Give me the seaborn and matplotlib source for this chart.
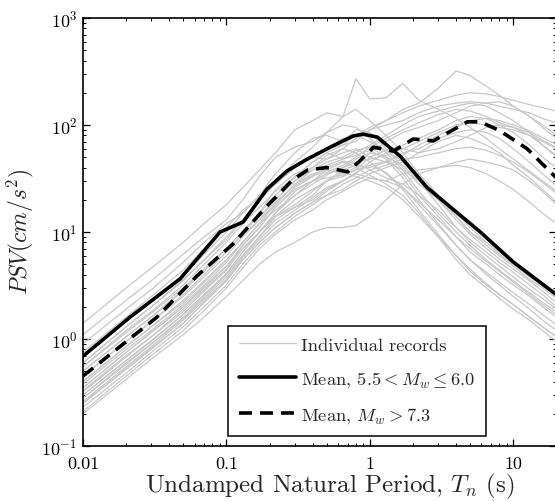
import numpy as np
import pandas as pd
import matplotlib
matplotlib.use("Agg")
import matplotlib.pyplot as plt
import matplotlib.ticker as mticker
from matplotlib.lines import Line2D
import seaborn as sns

# ---------------- data ----------------
periods = [0.01, 0.02, 0.03, 0.05, 0.07, 0.1, 0.13, 0.17, 0.22, 0.3, 0.4, 0.5,
           0.65, 0.8, 1.0, 1.3, 1.7, 2.2, 3.0, 4.0, 5.0, 6.5, 8.0, 10, 13, 16, 20]

# individual records, moderate magnitude events
records_small_m = [
    [1.4, 3.0, 4.6, 8.0, 12, 18, 26, 38, 55, 90, 110, 130, 120, 140, 110, 80, 55, 35, 22, 14, 10, 7.5, 6, 4.8, 3.6, 3.0, 2.4],
    [1.1, 2.3, 3.5, 6.2, 9, 13, 20, 33, 50, 62, 70, 85, 100, 95, 75, 55, 38, 24, 15, 10, 7.5, 5.5, 4.4, 3.5, 2.7, 2.2, 1.8],
    [0.9, 1.9, 2.9, 5.2, 8, 12, 15, 22, 35, 55, 75, 80, 70, 90, 85, 60, 40, 28, 20, 14, 10, 8, 6.5, 5.2, 4.0, 3.3, 2.6],
    [0.75, 1.6, 2.5, 4.4, 7, 11, 16, 21, 28, 40, 52, 60, 75, 80, 70, 58, 45, 32, 20, 13, 9.5, 7, 5.6, 4.5, 3.5, 2.8, 2.2],
    [0.6, 1.3, 2.0, 3.6, 5.5, 8.5, 13, 20, 30, 42, 50, 48, 55, 60, 50, 45, 38, 30, 22, 15, 11, 8, 6.2, 5, 3.8, 3.1, 2.5],
    [0.5, 1.05, 1.6, 2.9, 4.5, 7, 10, 15, 25, 35, 40, 52, 60, 55, 45, 35, 25, 16, 9.5, 6, 4.5, 3.3, 2.6, 2.1, 1.6, 1.3, 1.05],
    [0.45, 0.95, 1.45, 2.6, 4.0, 6.5, 9.5, 13, 18, 28, 38, 45, 50, 58, 62, 50, 35, 22, 14, 9, 6.5, 5, 4, 3.2, 2.5, 2.0, 1.6],
    [0.4, 0.85, 1.3, 2.3, 3.5, 5.5, 8, 12, 16, 22, 30, 38, 45, 40, 34, 28, 22, 15, 9, 5.5, 4, 3, 2.4, 1.9, 1.5, 1.2, 0.95],
    [0.35, 0.75, 1.15, 2.0, 3.1, 4.8, 7, 10, 15, 24, 30, 35, 40, 48, 55, 50, 42, 30, 18, 11, 8, 6, 4.8, 3.8, 2.9, 2.4, 1.9],
    [0.3, 0.63, 0.95, 1.7, 2.6, 4.0, 6, 9, 14, 20, 25, 30, 36, 33, 30, 26, 20, 14, 9, 6, 4.3, 3.2, 2.6, 2.1, 1.6, 1.3, 1.05],
    [0.28, 0.6, 0.9, 1.6, 2.5, 4.0, 6.5, 10, 14, 17, 22, 30, 33, 38, 42, 36, 26, 18, 11.5, 7.5, 5.5, 4.2, 3.4, 2.7, 2.1, 1.7, 1.35],
    [0.25, 0.52, 0.8, 1.4, 2.2, 3.5, 5.5, 8, 11, 15, 19, 24, 30, 35, 32, 30, 26, 19, 13, 9, 7, 5.3, 4.3, 3.4, 2.6, 2.1, 1.7],
    [0.55, 1.2, 1.8, 3.2, 5.0, 8, 12, 17, 24, 32, 45, 55, 48, 52, 58, 48, 32, 20, 12, 7.5, 5.5, 4.0, 3.2, 2.5, 1.9, 1.5, 1.2],
    [0.33, 0.7, 1.05, 1.9, 2.9, 4.5, 7.5, 11, 17, 26, 33, 40, 46, 44, 38, 32, 28, 22, 16, 11, 8.5, 6.5, 5.2, 4.2, 3.2, 2.6, 2.0],
]

# individual records, large magnitude events
records_large_m = [
    [0.5, 1.05, 1.6, 2.8, 4.3, 7, 10, 15, 22, 33, 45, 55, 65, 80, 95, 110, 140, 160, 220, 320, 290, 230, 190, 150, 120, 100, 80],
    [0.7, 1.5, 2.3, 4.0, 6.2, 10, 15, 22, 30, 45, 62, 85, 120, 270, 175, 180, 245, 170, 140, 115, 95, 75, 60, 48, 37, 30, 24],
    [0.55, 1.15, 1.75, 3.0, 4.5, 7, 10, 14, 20, 30, 40, 48, 60, 75, 90, 110, 130, 150, 170, 190, 200, 195, 185, 170, 155, 145, 135],
    [0.45, 0.95, 1.45, 2.5, 3.8, 6, 9, 13, 20, 30, 38, 42, 48, 55, 65, 80, 100, 120, 135, 150, 160, 150, 130, 110, 85, 65, 50],
    [0.4, 0.85, 1.3, 2.2, 3.4, 5.5, 8, 12, 18, 28, 35, 38, 35, 40, 55, 70, 85, 95, 110, 130, 150, 160, 165, 150, 120, 95, 75],
    [0.35, 0.75, 1.15, 2.0, 3.0, 4.8, 7.5, 11, 17, 25, 30, 32, 34, 38, 50, 58, 65, 75, 90, 110, 120, 115, 100, 85, 65, 50, 40],
    [0.32, 0.68, 1.05, 1.8, 2.8, 4.4, 7, 10, 15, 22, 28, 34, 40, 45, 48, 52, 60, 70, 85, 100, 105, 100, 95, 90, 80, 70, 60],
    [0.3, 0.63, 0.97, 1.7, 2.6, 4.1, 6.5, 10, 14, 18, 24, 30, 38, 42, 40, 45, 55, 60, 75, 85, 90, 85, 75, 60, 45, 35, 27],
    [0.28, 0.58, 0.9, 1.55, 2.4, 3.8, 6, 9, 13, 17, 20, 25, 30, 35, 45, 55, 60, 55, 60, 70, 80, 95, 100, 95, 80, 65, 52],
    [0.25, 0.53, 0.82, 1.4, 2.2, 3.5, 5.5, 8, 11, 15, 19, 22, 28, 32, 38, 42, 48, 50, 55, 60, 62, 58, 52, 45, 36, 29, 23],
    [0.23, 0.48, 0.75, 1.3, 2.0, 3.2, 5, 7.5, 10, 14, 18, 22, 25, 30, 35, 40, 45, 55, 70, 80, 75, 65, 55, 42, 32, 25, 19],
    [0.21, 0.45, 0.7, 1.2, 1.85, 3.0, 4.6, 7, 9.5, 13, 16, 20, 24, 28, 32, 30, 35, 38, 40, 45, 48, 45, 42, 38, 30, 24, 18],
    [0.6, 1.3, 2.0, 3.5, 5.5, 9, 13, 20, 28, 40, 50, 60, 65, 70, 90, 100, 110, 130, 150, 160, 165, 160, 150, 140, 130, 115, 105],
    [0.2, 0.42, 0.65, 1.1, 1.6, 2.5, 3.5, 5, 6.5, 8, 10, 11, 11, 11.5, 14, 20, 28, 35, 40, 42, 40, 35, 30, 25, 19, 15, 12],
    [0.38, 0.8, 1.2, 2.1, 3.2, 5.2, 8, 12, 19, 27, 34, 36, 42, 50, 62, 75, 90, 105, 125, 140, 135, 120, 105, 95, 85, 72, 62],
    [0.26, 0.55, 0.85, 1.5, 2.3, 3.6, 5.8, 8.5, 12, 16, 21, 26, 30, 36, 42, 46, 52, 65, 80, 95, 110, 115, 110, 100, 88, 76, 66],
]

# mean spectra
mean_small_T = [0.01, 0.0213, 0.0475, 0.0904, 0.131, 0.192, 0.265, 0.366, 0.53, 0.766, 0.90, 1.13, 1.63, 2.51, 5.89, 10, 20]
mean_small_psv = [0.69, 1.6, 3.64, 10, 12.4, 25.2, 37.2, 48, 62, 79, 82, 77, 51, 26, 10, 5.25, 2.6]

mean_large_T = [0.01, 0.0328, 0.0625, 0.111, 0.192, 0.292, 0.37, 0.5, 0.7, 0.85, 1.06, 1.46, 2.01, 2.77, 4.79, 5.9, 8.1, 12.5, 20]
mean_large_psv = [0.45, 1.6, 3.9, 7.7, 17.5, 31, 38, 40, 36.5, 46, 62, 57, 74, 71, 107, 107, 88, 60, 32]

x_ticks = [0.01, 0.1, 1, 10]
x_tick_labels = ["0.01", "0.1", "1", "10"]

legend_labels = ["Individual records",
                 r"Mean, $5.5 < M_w \leq 6.0$",
                 r"Mean, $M_w > 7.3$"]

# ---------------- long-form tables ----------------
rows = []
for i, rec in enumerate(records_small_m + records_large_m):
    for t, v in zip(periods, rec):
        rows.append({"record": i, "T": t, "PSV": v})
df_records = pd.DataFrame(rows)
df_small = pd.DataFrame({"T": mean_small_T, "PSV": mean_small_psv})
df_large = pd.DataFrame({"T": mean_large_T, "PSV": mean_large_psv})

# ---------------- style ----------------
sns.set_theme(style="ticks")
plt.rcParams["font.family"] = ["cmr10", "DejaVu Serif"]
plt.rcParams["mathtext.fontset"] = "cm"
plt.rcParams["axes.formatter.use_mathtext"] = True
plt.rcParams["axes.unicode_minus"] = False

fig = plt.figure(figsize=(5.55, 5.02), dpi=100)
ax = fig.add_axes([0.1495, 0.1096, 0.853, 0.8526])

gray = "#c8c8c8"
sns.lineplot(data=df_records, x="T", y="PSV", units="record", estimator=None,
             color=gray, linewidth=0.9, ax=ax, legend=False, sort=False)
sns.lineplot(data=df_small, x="T", y="PSV", color="black", linewidth=2.6,
             ax=ax, legend=False, sort=False)
sns.lineplot(data=df_large, x="T", y="PSV", color="black", linewidth=2.6,
             ax=ax, legend=False, sort=False)
ax.lines[-1].set_dashes((3.6, 2.2))

ax.set_xscale("log")
ax.set_yscale("log")
ax.set_xlim(0.01, 20)
ax.set_ylim(0.1, 1000)

ax.set_xticks(x_ticks)
ax.xaxis.set_major_formatter(mticker.FixedFormatter(x_tick_labels))
ax.xaxis.set_minor_locator(mticker.LogLocator(base=10, subs=np.arange(2, 10), numticks=20))
ax.yaxis.set_major_locator(mticker.LogLocator(base=10, numticks=10))
ax.yaxis.set_minor_locator(mticker.LogLocator(base=10, subs=np.arange(2, 10), numticks=20))
ax.yaxis.set_minor_formatter(mticker.NullFormatter())
ax.xaxis.set_minor_formatter(mticker.NullFormatter())

ax.tick_params(which="both", direction="in", top=True, right=True, colors="black",
               labelsize=13)
ax.tick_params(which="major", length=5, width=0.9)
ax.tick_params(axis="x", which="major", pad=7)
ax.tick_params(axis="y", which="major", pad=4)
ax.tick_params(which="minor", length=2.5, width=0.7)
for s in ax.spines.values():
    s.set_color("black")
    s.set_linewidth(1.2)

ax.set_xlabel("Undamped Natural Period, $T_n$ (s)", fontsize=18)
ax.set_ylabel(r"$PSV(cm/s^2)$", fontsize=17)
ax.xaxis.set_label_coords(0.522, -0.058)
ax.yaxis.set_label_coords(-0.10, 0.502)

handles = [Line2D([], [], color=gray, linewidth=0.9),
           Line2D([], [], color="black", linewidth=2.6),
           Line2D([], [], color="black", linewidth=2.6, dashes=(3.6, 2.2))]
leg = ax.legend(handles, legend_labels, loc="lower left",
                bbox_to_anchor=(0.3066, 0.0234), borderaxespad=0,
                fontsize=13.3, frameon=True, fancybox=False, framealpha=1,
                edgecolor="black", handlelength=3.1, handletextpad=0.25,
                labelspacing=0.88, borderpad=0.6)
leg.get_frame().set_linewidth(1.1)

fig.savefig("out.png", dpi=100)
